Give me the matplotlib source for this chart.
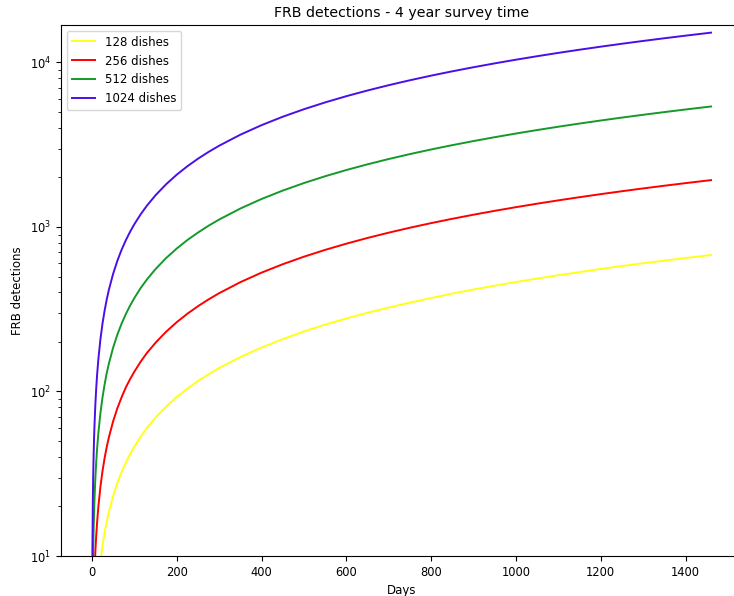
import numpy as np
import matplotlib
matplotlib.use("Agg")
import matplotlib.pyplot as plt

days = [0.5, 1, 2, 3, 4, 5, 6, 8, 10, 12, 15, 20, 25, 30,
        35, 40, 50, 60, 70, 80, 90, 100,
        115, 130, 150, 175, 200, 225, 250, 275,
        300, 350, 400, 450, 500, 550, 600, 650, 700, 750, 800, 850, 900, 950,
        1000, 1050, 1100, 1150, 1200, 1250, 1300, 1350, 1400, 1450,
        1460]

det_128 = [0.23, 0.46, 0.93, 1.39, 1.85, 2.3, 2.8, 3.7, 4.6, 5.6, 6.9, 9.3, 11.6, 13.9,
           16.2, 18.5, 23.2, 27.8, 32.4, 37.0, 41.7, 46.3,
           53.2, 60.2, 69.5, 81.0, 92.6, 104, 116, 127,
           139, 162, 185, 208, 232, 255, 278, 301, 324, 347, 370, 394, 417, 440,
           463, 486, 509, 532, 556, 579, 602, 625, 648, 671,
           676]
det_256 = [0.66, 1.32, 2.64, 3.96, 5.28, 6.6, 7.9, 10.6, 13.2, 15.8, 19.8, 26.4, 33, 39.6,
           46.2, 52.8, 66, 79.2, 92.4, 106, 119, 132,
           152, 172, 198, 231, 264, 297, 330, 363,
           396, 462, 528, 594, 660, 726, 792, 858, 924, 990, 1056, 1122, 1188, 1254,
           1320, 1386, 1452, 1518, 1584, 1650, 1716, 1782, 1848, 1914,
           1927]
det_512 = [1.85, 3.7, 7.4, 11.1, 14.8, 18.5, 22.2, 29.6, 37, 44.4, 55.5, 74, 92.5, 111,
           130, 148, 185, 222, 259, 296, 333, 370,
           426, 481, 555, 648, 740, 833, 925, 1018,
           1110, 1295, 1480, 1665, 1850, 2035, 2220, 2405, 2590, 2775, 2960, 3145, 3330, 3515,
           3700, 3885, 4070, 4255, 4440, 4625, 4810, 4995, 5180, 5365,
           5402]
det_1024 = [5.2, 10.4, 20.8, 31.2, 41.6, 52, 62.4, 83.2, 104, 125, 156, 208, 260, 312,
            364, 416, 520, 624, 728, 832, 936, 1040,
            1196, 1352, 1560, 1820, 2080, 2340, 2600, 2860,
            3120, 3640, 4160, 4680, 5200, 5720, 6240, 6760, 7280, 7800, 8320, 8840, 9360, 9880,
            10400, 10920, 11440, 11960, 12480, 13000, 13520, 14040, 14560, 15080,
            15184]

labels = ["128 dishes", "256 dishes", "512 dishes", "1024 dishes"]
colors = ["#ffff1a", "#ff0000", "#14992a", "#4a0fe8"]

fig = plt.figure(figsize=(7.34, 5.96), dpi=100)
ax = fig.add_axes([61 / 734, 40 / 596, 681 / 734, 531 / 596])

for y, lab, c in zip([det_128, det_256, det_512, det_1024], labels, colors):
    ax.plot(days, y, color=c, lw=1.4, label=lab)

ax.set_yscale("log")
ax.set_ylim(10, 16900)
ax.set_xlim(-73, 1533)
ax.set_xticks(np.arange(0, 1401, 200))
ax.tick_params(labelsize=8.3)

ax.set_title("FRB detections - 4 year survey time", fontsize=10.2, pad=6)
ax.set_xlabel("Days", fontsize=8.5, labelpad=4)
ax.set_ylabel("FRB detections", fontsize=8.5)
ax.legend(loc="upper left", fontsize=8.5)

fig.savefig("out.png", dpi=100)
